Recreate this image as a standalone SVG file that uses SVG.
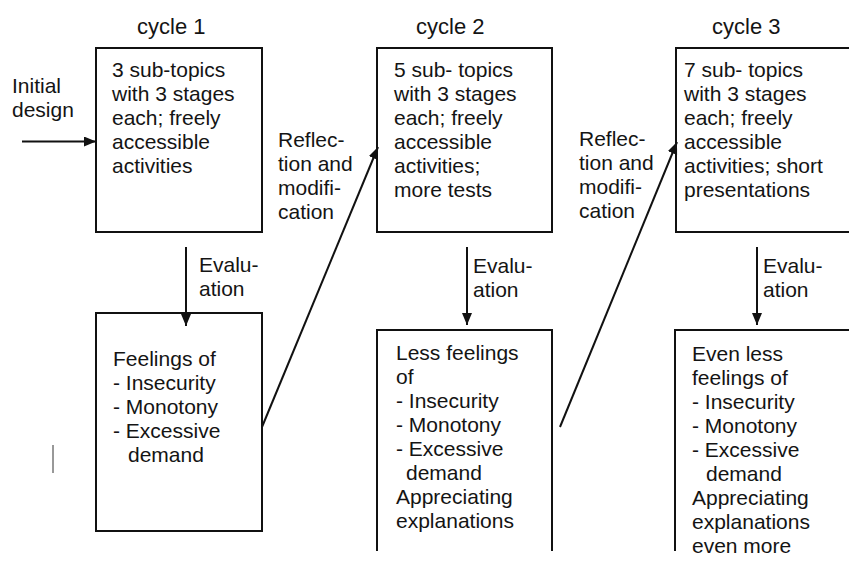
<svg xmlns="http://www.w3.org/2000/svg" width="849" height="562" viewBox="0 0 849 562">
  <style>
    text { font-family: "Liberation Sans", Arial, sans-serif; font-size: 21px; fill: #141414; }
    .head { font-size: 22px; }
    .box { fill: none; stroke: #111; stroke-width: 2; }
    .conn { fill: none; stroke: #111; stroke-width: 2; marker-end: url(#head); }
  </style>
  <defs>
    <marker id="head" markerUnits="userSpaceOnUse" markerWidth="13" markerHeight="11" refX="12" refY="5" orient="auto">
      <path d="M0,0 L12,5 L0,10 Z" fill="#111"/>
    </marker>
  </defs>
  <rect width="849" height="562" fill="#fff"/>

  <!-- cycle headings -->
  <g id="headings">
    <text class="head" x="137" y="34">cycle 1</text>
    <text class="head" x="416" y="34">cycle 2</text>
    <text class="head" x="712" y="34">cycle 3</text>
  </g>

  <g id="initial-design">
    <text x="12" y="93">Initial</text>
    <text x="12" y="117">design</text>
  </g>

  <g id="cycle1-design">
    <rect class="box" x="96" y="48" width="166" height="184"/>
    <text x="112" y="77">3 sub-topics</text>
    <text x="112" y="101">with 3 stages</text>
    <text x="112" y="125">each; freely</text>
    <text x="112" y="149">accessible</text>
    <text x="112" y="173">activities</text>
  </g>

  <g id="cycle1-result">
    <rect class="box" x="96" y="313" width="166" height="218"/>
    <text x="113" y="366">Feelings of</text>
    <text x="113" y="390">- Insecurity</text>
    <text x="113" y="414">- Monotony</text>
    <text x="113" y="438">- Excessive</text>
    <text x="128" y="462">demand</text>
  </g>

  <g id="cycle2-design">
    <rect class="box" x="377" y="48" width="175" height="184"/>
    <text x="394" y="77">5 sub- topics</text>
    <text x="394" y="101">with 3 stages</text>
    <text x="394" y="125">each; freely</text>
    <text x="394" y="149">accessible</text>
    <text x="394" y="173">activities;</text>
    <text x="394" y="197">more tests</text>
  </g>

  <g id="cycle2-result">
    <path class="box" d="M377,551 V330 H552 V551"/>
    <text x="396" y="360">Less feelings</text>
    <text x="396" y="384">of</text>
    <text x="396" y="408">- Insecurity</text>
    <text x="396" y="432">- Monotony</text>
    <text x="396" y="456">- Excessive</text>
    <text x="406" y="480">demand</text>
    <text x="396" y="504">Appreciating</text>
    <text x="396" y="528">explanations</text>
  </g>

  <g id="cycle3-design">
    <path class="box" d="M860,48 H676 V232 H860"/>
    <text x="684" y="77">7 sub- topics</text>
    <text x="684" y="101">with 3 stages</text>
    <text x="684" y="125">each; freely</text>
    <text x="684" y="149">accessible</text>
    <text x="684" y="173">activities; short</text>
    <text x="684" y="197">presentations</text>
  </g>

  <g id="cycle3-result">
    <path class="box" d="M675,551 V330 H860"/>
    <text x="692" y="361">Even less</text>
    <text x="692" y="385">feelings of</text>
    <text x="692" y="409">- Insecurity</text>
    <text x="692" y="433">- Monotony</text>
    <text x="692" y="457">- Excessive</text>
    <text x="706" y="481">demand</text>
    <text x="692" y="505">Appreciating</text>
    <text x="692" y="529">explanations</text>
    <text x="692" y="553">even more</text>
  </g>

  <!-- connectors and their labels -->
  <g id="connectors">
    <line class="conn" x1="22" y1="141.5" x2="96" y2="141.5"/>
    <line class="conn" x1="186" y1="247" x2="186" y2="326"/>
    <line class="conn" x1="467" y1="247" x2="467" y2="325"/>
    <line class="conn" x1="757" y1="247" x2="757" y2="325"/>
    <line class="conn" x1="262" y1="427" x2="378" y2="147"/>
    <line class="conn" x1="560" y1="427" x2="677" y2="142"/>
    <line x1="53" y1="445" x2="53" y2="473" stroke="#333" stroke-width="1"/>

    <text x="199" y="272">Evalu-</text>
    <text x="199" y="296">ation</text>
    <text x="473" y="273">Evalu-</text>
    <text x="473" y="297">ation</text>
    <text x="763" y="273">Evalu-</text>
    <text x="763" y="297">ation</text>

    <text x="278" y="147">Reflec-</text>
    <text x="278" y="171">tion and</text>
    <text x="278" y="195">modifi-</text>
    <text x="278" y="219">cation</text>
    <text x="579" y="146">Reflec-</text>
    <text x="579" y="170">tion and</text>
    <text x="579" y="194">modifi-</text>
    <text x="579" y="218">cation</text>
  </g>
</svg>
